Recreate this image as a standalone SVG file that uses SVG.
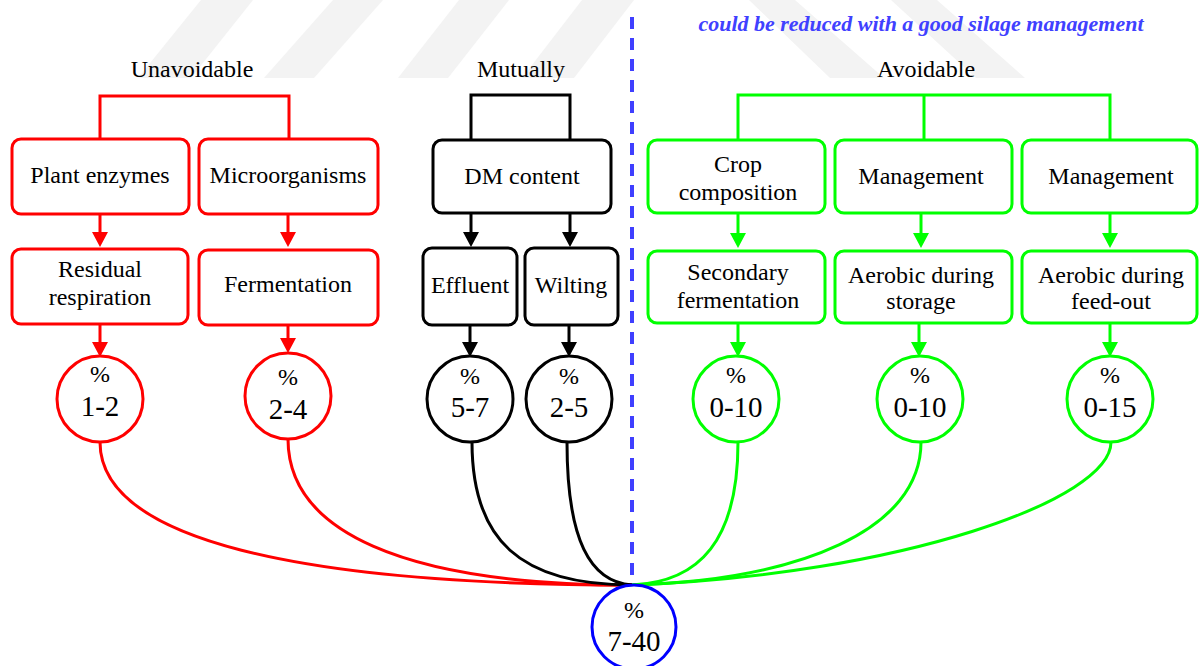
<svg xmlns="http://www.w3.org/2000/svg" width="1201" height="666" viewBox="0 0 1201 666">
<style>
text{font-family:"Liberation Serif","Times New Roman",serif;fill:#000;text-anchor:middle}
.t{font-size:24px}
.p{font-size:24px}
.n{font-size:29px}
.box{fill:#fff;stroke-width:3}
.r{stroke:#ff0000}
.k{stroke:#000}
.g{stroke:#00ff00}
.circ{fill:#fff;stroke-width:3}
.ln{fill:none;stroke-width:3}
.wm{fill:#f3f3f3}
</style>
<defs>
<marker id="ar" viewBox="0 0 15 16" markerWidth="15" markerHeight="16" refX="10" refY="8" orient="auto" markerUnits="userSpaceOnUse"><path d="M0,0 L15,8 L0,16 z" fill="#ff0000"/></marker>
<marker id="ak" viewBox="0 0 15 16" markerWidth="15" markerHeight="16" refX="10" refY="8" orient="auto" markerUnits="userSpaceOnUse"><path d="M0,0 L15,8 L0,16 z" fill="#000"/></marker>
<marker id="ag" viewBox="0 0 15 16" markerWidth="15" markerHeight="16" refX="10" refY="8" orient="auto" markerUnits="userSpaceOnUse"><path d="M0,0 L15,8 L0,16 z" fill="#00ff00"/></marker>
</defs>
<rect width="1201" height="666" fill="#fff"/>
<g id="watermark">
<polygon class="wm" points="201,0 253,0 191,78 138,78"/>
<polygon class="wm" points="333,0 383,0 314,78 264,78"/>
<polygon class="wm" points="459,0 509,0 448,78 398,78"/>
<polygon class="wm" points="582,0 634,0 574,78 522,78"/>
<polygon class="wm" points="749,0 795,0 884,78 830,78"/>
<polygon class="wm" points="891,0 937,0 1025,78 976,78"/>
</g>
<g id="labels">
<text x="192" y="77" class="t">Unavoidable</text>
<text x="521" y="77" class="t">Mutually</text>
<text x="926" y="77" class="t">Avoidable</text>
<text x="921" y="31" style="font-size:21px;font-weight:bold;font-style:italic;fill:#4040ff" textLength="445" lengthAdjust="spacingAndGlyphs">could be reduced with a good silage management</text>
</g>
<g id="connectors">
<line x1="632" y1="17" x2="632" y2="585" stroke="#3f3fff" stroke-width="4" stroke-dasharray="12 9"/>
<polyline class="ln r" points="100,139 100,96 289,96 289,139"/>
<polyline class="ln k" points="471,140 471,95 570,95 570,140"/>
<polyline class="ln g" points="738,140 738,95 1110,95 1110,140"/>
<line class="ln g" x1="924" y1="95" x2="924" y2="140"/>
<line class="ln r" x1="100" y1="214" x2="100" y2="242" marker-end="url(#ar)"/>
<line class="ln r" x1="288" y1="214" x2="288" y2="242" marker-end="url(#ar)"/>
<line class="ln k" x1="471" y1="213" x2="471" y2="242" marker-end="url(#ak)"/>
<line class="ln k" x1="570" y1="213" x2="570" y2="242" marker-end="url(#ak)"/>
<line class="ln g" x1="738" y1="213" x2="738" y2="243" marker-end="url(#ag)"/>
<line class="ln g" x1="921" y1="213" x2="921" y2="243" marker-end="url(#ag)"/>
<line class="ln g" x1="1110" y1="213" x2="1110" y2="243" marker-end="url(#ag)"/>
<line class="ln r" x1="100" y1="324" x2="100" y2="352" marker-end="url(#ar)"/>
<line class="ln r" x1="288" y1="325" x2="288" y2="348" marker-end="url(#ar)"/>
<line class="ln k" x1="470" y1="325" x2="470" y2="352" marker-end="url(#ak)"/>
<line class="ln k" x1="569" y1="325" x2="569" y2="352" marker-end="url(#ak)"/>
<line class="ln g" x1="738" y1="323" x2="738" y2="352" marker-end="url(#ag)"/>
<line class="ln g" x1="919" y1="323" x2="919" y2="352" marker-end="url(#ag)"/>
<line class="ln g" x1="1110" y1="323" x2="1110" y2="352" marker-end="url(#ag)"/>
<path class="ln r" d="M100,442 C100,540 300,585 632,585"/>
<path class="ln r" d="M288,439 C288,530 400,585 632,585"/>
<path class="ln k" d="M472,442 C472,540 520,585 632,585"/>
<path class="ln k" d="M567,442 C567,540 590,582 632,585"/>
<path class="ln g" d="M738,442 C738,540 700,582 632,585"/>
<path class="ln g" d="M921,442 C921,530 800,580 632,585"/>
<path class="ln g" d="M1111,442 C1111,500 900,575 632,585"/>
</g>
<g id="plant-enzymes"><rect class="box r" x="12" y="139" width="177" height="75" rx="9"/><text x="100" y="183" class="t">Plant enzymes</text></g>
<g id="microorganisms"><rect class="box r" x="199" y="139" width="179" height="75" rx="9"/><text x="288" y="183" class="t">Microorganisms</text></g>
<g id="residual-respiration"><rect class="box r" x="12" y="249" width="176" height="75" rx="9"/><text x="100" y="277" class="t">Residual</text><text x="100" y="305" class="t">respiration</text></g>
<g id="fermentation"><rect class="box r" x="199" y="250" width="179" height="75" rx="9"/><text x="288" y="292" class="t">Fermentation</text></g>
<g id="dm-content"><rect class="box k" x="433" y="140" width="178" height="73" rx="9"/><text x="522" y="184" class="t">DM content</text></g>
<g id="effluent"><rect class="box k" x="423" y="248" width="94" height="77" rx="9"/><text x="470" y="293" class="t">Effluent</text></g>
<g id="wilting"><rect class="box k" x="525" y="248" width="93" height="77" rx="9"/><text x="571" y="293" class="t">Wilting</text></g>
<g id="crop-composition"><rect class="box g" x="648" y="140" width="177" height="73" rx="9"/><text x="738" y="172" class="t">Crop</text><text x="738" y="200" class="t">composition</text></g>
<g id="management-1"><rect class="box g" x="835" y="140" width="177" height="73" rx="9"/><text x="921" y="184" class="t">Management</text></g>
<g id="management-2"><rect class="box g" x="1022" y="140" width="175" height="73" rx="9"/><text x="1111" y="184" class="t">Management</text></g>
<g id="secondary-fermentation"><rect class="box g" x="648" y="251" width="177" height="72" rx="9"/><text x="738" y="280" class="t">Secondary</text><text x="738" y="308" class="t">fermentation</text></g>
<g id="aerobic-storage"><rect class="box g" x="835" y="251" width="177" height="72" rx="9"/><text x="921" y="283" class="t">Aerobic during</text><text x="921" y="309" class="t">storage</text></g>
<g id="aerobic-feedout"><rect class="box g" x="1022" y="251" width="175" height="72" rx="9"/><text x="1111" y="283" class="t">Aerobic during</text><text x="1111" y="309" class="t">feed-out</text></g>
<g id="pct-1-2"><circle class="circ r" cx="100" cy="399" r="43"/><text x="100" y="382" class="p">%</text><text x="100" y="416" class="n">1-2</text></g>
<g id="pct-2-4"><circle class="circ r" cx="288" cy="396" r="43"/><text x="288" y="385" class="p">%</text><text x="288" y="419" class="n">2-4</text></g>
<g id="pct-5-7"><circle class="circ k" cx="470" cy="399" r="43"/><text x="470" y="384" class="p">%</text><text x="470" y="417" class="n">5-7</text></g>
<g id="pct-2-5"><circle class="circ k" cx="569" cy="399" r="43"/><text x="569" y="384" class="p">%</text><text x="569" y="417" class="n">2-5</text></g>
<g id="pct-0-10a"><circle class="circ g" cx="736" cy="399" r="43"/><text x="736" y="383" class="p">%</text><text x="736" y="417" class="n">0-10</text></g>
<g id="pct-0-10b"><circle class="circ g" cx="920" cy="399" r="43"/><text x="920" y="383" class="p">%</text><text x="920" y="417" class="n">0-10</text></g>
<g id="pct-0-15"><circle class="circ g" cx="1110" cy="399" r="43"/><text x="1110" y="383" class="p">%</text><text x="1110" y="417" class="n">0-15</text></g>
<g id="total"><circle class="circ" stroke="#0000ff" cx="634" cy="627" r="42"/><text x="634" y="618" class="p">%</text><text x="634" y="651" class="n">7-40</text></g>
</svg>
